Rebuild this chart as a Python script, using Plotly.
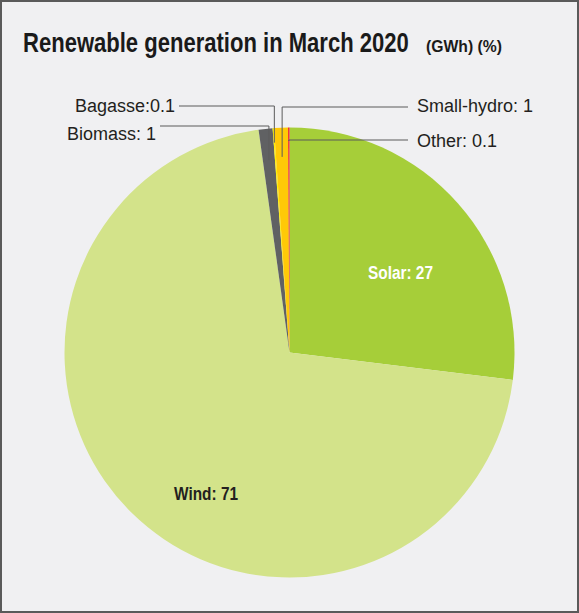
import math
import plotly.graph_objects as go

# Renewable generation mix, March 2020 (share of GWh, %)
sources = ["Solar", "Wind", "Biomass", "Bagasse", "Small-hydro", "Other"]
shares = [27, 71, 1, 0.1, 1, 0.1]
colors = ["#a6ce39", "#d3e38a", "#606163", "#fff200", "#ffc907", "#ed1c24"]

W, H = 579, 613
CX, CY, R = 289.5, 352.5, 225.0   # pie centre and radius in pixels


def px(x):
    return x / W


def py(y):
    return 1 - y / H


fig = go.Figure(go.Pie(
    labels=sources,
    values=shares,
    sort=False,
    direction="clockwise",
    rotation=0,
    marker=dict(colors=colors, line=dict(width=0)),
    textinfo="none",
    hoverinfo="label+value",
    showlegend=False,
    domain=dict(x=[px(CX - R), px(CX + R)], y=[py(CY + R), py(CY - R)]),
))

# mid-angle of each slice, clockwise from 12 o'clock
total = sum(shares)
mid_angle = {}
acc = 0.0
for name, v in zip(sources, shares):
    mid_angle[name] = (acc + v / 2) / total * 2 * math.pi
    acc += v

# callouts for the thin slices: (source, label text, label side, label x, label y, line y, point radius)
callouts = [
    ("Bagasse", "Bagasse:0.1", "left", 177, 106, 106, 0.935),
    ("Biomass", "Biomass: 1", "left", 158, 134, 126, 0.86),
    ("Small-hydro", "Small-hydro: 1", "right", 415, 106, 107, 0.87),
    ("Other", "Other: 0.1", "right", 415, 141, 140, 0.94),
]

shapes = []
annotations = []
for name, text, side, lx, ly, liney, rf in callouts:
    a = mid_angle[name]
    ex = CX + rf * R * math.sin(a)
    ey = CY - rf * R * math.cos(a)
    sx = lx + 2 if side == "left" else lx - 7
    path = f"M{px(sx)},{py(liney)} L{px(ex)},{py(liney)} L{px(ex)},{py(ey)}"
    shapes.append(dict(type="path", xref="paper", yref="paper", path=path,
                       line=dict(color="#5b5b5b", width=1)))
    annotations.append(dict(
        x=px(lx), y=py(ly), xref="paper", yref="paper", text=text, showarrow=False,
        xanchor="right" if side == "left" else "left", yanchor="middle",
        font=dict(family="Liberation Sans, Arial, sans-serif", size=18, color="#231f20"),
    ))

solar_text = f"Solar: {shares[0]}"
wind_text = f"Wind: {shares[1]}"
title_text = "Renewable generation in March 2020"
unit_text = "(GWh) (%)"

# condensed widths (px) for the title and in-slice labels, and the pivot to squeeze about
condensed = {
    title_text: [386, "left"],
    unit_text: [76, "left"],
    solar_text: [65, "center"],
    wind_text: [64, "center"],
}

# in-slice labels for the two large slices
annotations.append(dict(
    x=px(400), y=py(272), xref="paper", yref="paper",
    text=f"<b>{solar_text}</b>", showarrow=False, xanchor="center", yanchor="middle",
    width=condensed[solar_text][0], align="center",
    font=dict(family="Liberation Sans, Arial, sans-serif", size=19, color="#ffffff"),
))
annotations.append(dict(
    x=px(206), y=py(494), xref="paper", yref="paper",
    text=f"<b>{wind_text}</b>", showarrow=False, xanchor="center", yanchor="middle",
    width=condensed[wind_text][0], align="center",
    font=dict(family="Liberation Sans, Arial, sans-serif", size=18, color="#231f20"),
))

# title and unit
annotations.append(dict(
    x=px(21), y=py(43), xref="paper", yref="paper",
    text=f"<b>{title_text}</b>", showarrow=False, align="left",
    width=condensed[title_text][0], xanchor="left", yanchor="middle",
    font=dict(family="Liberation Sans, Arial, sans-serif", size=28, color="#1a1a1a"),
))
annotations.append(dict(
    x=px(424), y=py(46), xref="paper", yref="paper",
    text=f"<b>{unit_text}</b>", showarrow=False, align="left",
    width=condensed[unit_text][0], xanchor="left", yanchor="middle",
    font=dict(family="Liberation Sans, Arial, sans-serif", size=17, color="#1a1a1a"),
))

# outer frame
shapes.append(dict(type="rect", xref="paper", yref="paper", x0=0, x1=1, y0=0, y1=1,
                   line=dict(color="#5a5a5a", width=4), layer="above"))

fig.update_layout(
    width=W, height=H,
    margin=dict(l=0, r=0, t=0, b=0),
    paper_bgcolor="#f0f0f2",
    plot_bgcolor="#f0f0f2",
    shapes=shapes,
    annotations=annotations,
)

# squeeze the bold lettering horizontally into a condensed look
js = """
var spec = %s;
var gd = document.getElementById('{plot_id}');
gd.querySelectorAll('text.annotation-text').forEach(function (t) {
  var s = spec[t.textContent];
  if (!s) return;
  var n = t;
  while (n && n !== gd) {
    if (n.removeAttribute) n.removeAttribute('clip-path');
    if (n.tagName && n.tagName.toLowerCase() === 'svg' && n.classList &&
        !n.classList.contains('main-svg')) {
      n.setAttribute('overflow', 'visible');
      n.style.overflow = 'visible';
    }
    n = n.parentNode;
  }
  var b = t.getBBox();
  var k = s[0] / b.width;
  var p = s[1] === 'left' ? b.x : b.x + b.width / 2;
  t.setAttribute('transform',
    'translate(' + p + ',0) scale(' + k + ',1) translate(' + (-p) + ',0)');
});
""" % str(condensed).replace("'", '"')

fig.write_html("out.html", config={"displayModeBar": False}, post_script=js)
